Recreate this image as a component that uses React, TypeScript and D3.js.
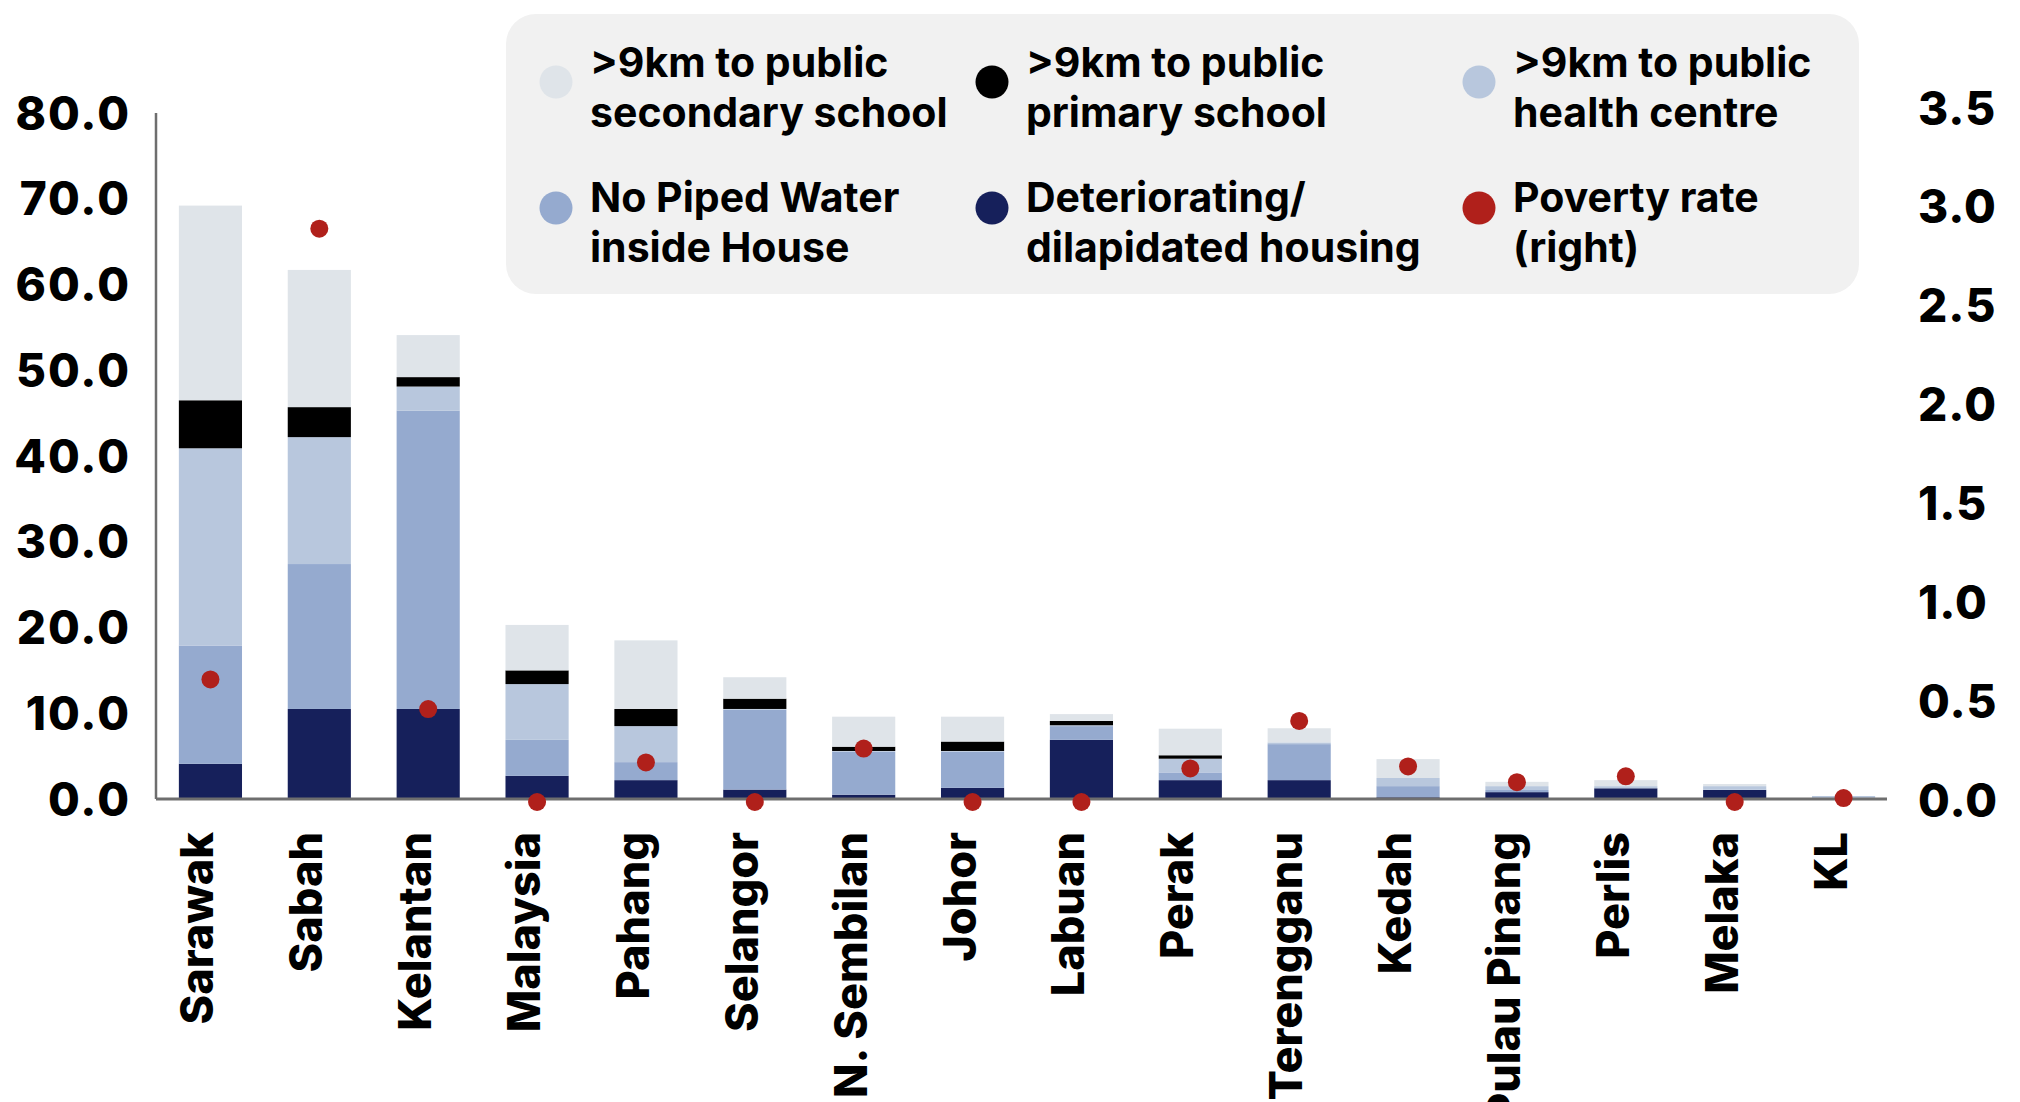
import * as d3 from 'd3';

const WIDTH = 2020;
const HEIGHT = 1102;
const FONT = 'Inter, "Open Sans", sans-serif';

// categories, left to right
const states = [
  'Sarawak', 'Sabah', 'Kelantan', 'Malaysia', 'Pahang', 'Selangor', 'N. Sembilan', 'Johor',
  'Labuan', 'Perak', 'Terengganu', 'Kedah', 'Pulau Pinang', 'Perlis', 'Melaka', 'KL',
];

// stacked series (%), bottom to top
const housing = [4.1, 10.5, 10.5, 2.7, 2.2, 1.1, 0.5, 1.3, 6.9, 2.2, 2.2, 0.2, 0.8, 1.25, 1.05, 0];
const water = [13.8, 16.9, 34.8, 4.2, 2.1, 9.3, 5.0, 4.2, 1.6, 0.9, 4.2, 1.3, 0.25, 0, 0.05, 0.1];
const health = [23.0, 14.8, 2.8, 6.5, 4.2, 0.1, 0.1, 0.1, 0.1, 1.6, 0.2, 0.95, 0.45, 0.25, 0.4, 0.25];
const primary = [5.6, 3.5, 1.1, 1.6, 2.0, 1.2, 0.5, 1.1, 0.5, 0.4, 0, 0, 0, 0, 0, 0];
const secondary = [22.7, 16.0, 4.9, 5.3, 8.0, 2.5, 3.5, 2.9, 0.8, 3.1, 1.65, 2.2, 0.5, 0.7, 0.25, 0];

// poverty rate, right axis
const poverty = [0.62, 2.9, 0.47, 0, 0.2, 0, 0.27, 0, 0, 0.17, 0.41, 0.18, 0.1, 0.13, 0, 0.02];

const leftTicks = [0, 10, 20, 30, 40, 50, 60, 70, 80];
const rightTicks = [0, 0.5, 1, 1.5, 2, 2.5, 3, 3.5];

const keys = ['housing', 'water', 'health', 'primary', 'secondary'];
const colors: Record<string, string> = {
  secondary: '#dfe4e9',
  primary: '#000000',
  health: '#b8c7dd',
  water: '#95aacf',
  housing: '#16205b',
  poverty: '#b0201b',
};

// legend grid, row by row
const legendItems = [
  { key: 'secondary', lines: ['>9km to public', 'secondary school'] },
  { key: 'primary', lines: ['>9km to public', 'primary school'] },
  { key: 'health', lines: ['>9km to public', 'health centre'] },
  { key: 'water', lines: ['No Piped Water', 'inside House'] },
  { key: 'housing', lines: ['Deteriorating/', 'dilapidated housing'] },
  { key: 'poverty', lines: ['Poverty rate', '(right)'] },
];

export default function App() {
  const rows = states.map((s, i) => ({
    state: s,
    housing: housing[i],
    water: water[i],
    health: health[i],
    primary: primary[i],
    secondary: secondary[i],
  }));
  const stacked = d3.stack<any>().keys(keys)(rows);

  const x = d3.scaleBand().domain(states).range([156, 1898]).paddingInner(0.42).paddingOuter(0.21);
  const y = d3.scaleLinear().domain([0, 80]).range([799, 113]);
  const yRight = d3.scaleLinear().domain([0, 3.5]).range([802, 110]);

  const legendCols = [556, 992, 1479];
  const legendDotY = [82, 208];
  const legendTextY = [77, 212];

  return (
    <svg
      width={WIDTH}
      height={HEIGHT}
      style={{ position: 'absolute', left: 0, top: 0, background: '#fff' }}
      fontFamily={FONT}
    >
      {/* legend box */}
      <rect x={506} y={14} width={1353} height={280} rx={30} fill="#f1f1f1" />
      {legendItems.map((d, i) => {
        const cx = legendCols[i % 3];
        const row = Math.floor(i / 3);
        return (
          <g key={d.key}>
            <circle cx={cx} cy={legendDotY[row]} r={16.5} fill={colors[d.key]} />
            {d.lines.map((l, j) => (
              <text key={j} x={cx + 34} y={legendTextY[row] + j * 50} fontSize={41} fontWeight={700} fill="#000">
                {l}
              </text>
            ))}
          </g>
        );
      })}

      {/* bars */}
      {stacked.map(layer => (
        <g key={layer.key} fill={colors[layer.key]}>
          {layer.map((d, i) => (
            <rect
              key={i}
              x={x(states[i])}
              y={y(d[1])}
              width={x.bandwidth()}
              height={Math.max(0, y(d[0]) - y(d[1]))}
            />
          ))}
        </g>
      ))}

      {/* axes */}
      <line x1={156} x2={156} y1={113} y2={799} stroke="#6e6e6e" strokeWidth={2.5} />
      <line x1={156} x2={1887} y1={799} y2={799} stroke="#6e6e6e" strokeWidth={3} />

      {/* poverty dots */}
      {poverty.map((v, i) => (
        <circle key={i} cx={x(states[i])! + x.bandwidth() / 2} cy={yRight(v)} r={9} fill={colors.poverty} />
      ))}

      {/* left ticks */}
      {leftTicks.map(t => (
        <text
          key={t}
          x={131}
          y={y(t)}
          dy="0.36em"
          textAnchor="end"
          fontSize={46}
          fontWeight={800}
          letterSpacing={2}
        >
          {t.toFixed(1)}
        </text>
      ))}

      {/* right ticks */}
      {rightTicks.map(t => (
        <text key={t} x={1918} y={yRight(t) - 2} dy="0.36em" fontSize={46} fontWeight={800} letterSpacing={1}>
          {t.toFixed(1)}
        </text>
      ))}

      {/* category labels */}
      {states.map(s => (
        <text
          key={s}
          transform={`translate(${x(s)! + x.bandwidth() / 2 + 3},832) rotate(-90)`}
          textAnchor="end"
          fontSize={45}
          fontWeight={800}
        >
          {s}
        </text>
      ))}
    </svg>
  );
}
